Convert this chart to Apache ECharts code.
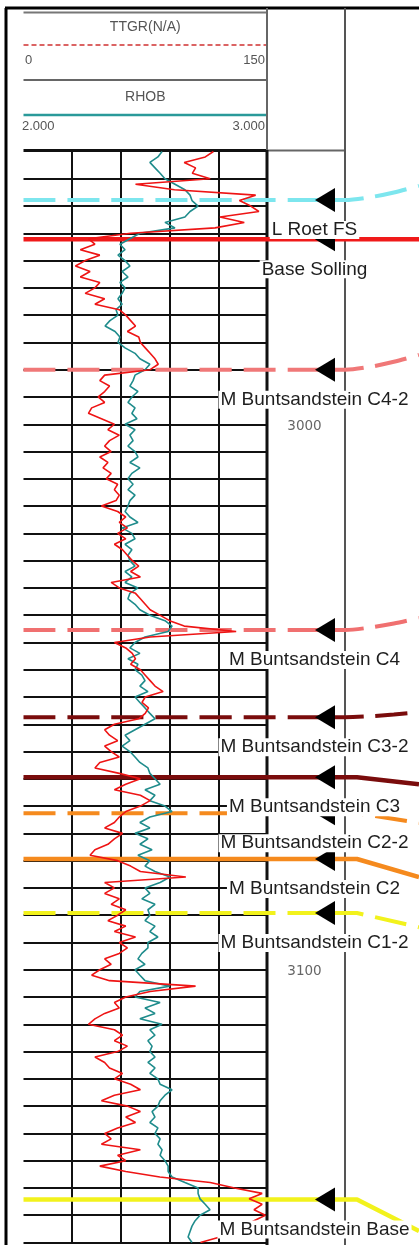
<!DOCTYPE html>
<html><head><meta charset="utf-8">
<script src="https://cdn.jsdelivr.net/npm/echarts@6/dist/echarts.min.js"></script>
<style>html,body{margin:0;padding:0;background:#fff;}#c{width:419px;height:1245px;}</style>
</head><body><div id="c"></div>
<script>
// ---------- DATA ----------
const depthStart = 2950;
const depthStep = 1;
// TTGR (API), one value per metre from 2950 to 3150
const gr = [
117,112,99,106,104,115,69,93,143,133,
140,145,121,136,118,66,40,44,35,47,
38,32,41,35,47,44,38,50,44,59,
63,66,69,64,71,72,75,78,81,83,
78,50,47,53,50,46,50,42,40,48,
56,52,59,53,50,54,47,52,49,54,
51,58,56,59,57,48,58,63,59,64,
58,63,56,61,64,67,71,66,72,54,
59,69,72,75,78,84,90,99,131,78,
56,63,67,69,66,72,75,78,81,86,
75,73,77,75,71,56,50,53,58,50,
54,59,47,44,59,72,63,56,72,78,
72,63,59,56,50,61,56,52,44,41,
58,66,72,100,50,56,50,59,54,63,
58,52,63,56,69,59,64,59,50,54,
47,42,53,106,78,63,56,59,50,44,
40,56,61,56,64,58,44,50,53,61,
56,66,72,56,48,64,72,63,69,58,
50,54,48,72,58,63,47,63,84,115,
130,147,139,147,142,149,142,136,142,121,
109
];
// RHOB (g/cc), one value per metre from 2950 to 3150
const rhob = [
2.569,2.552,2.519,2.540,2.561,2.581,2.622,2.663,2.684,2.692,
2.717,2.684,2.663,2.581,2.622,2.478,2.437,2.396,2.417,2.388,
2.417,2.437,2.405,2.429,2.396,2.417,2.405,2.388,2.405,2.380,
2.388,2.355,2.335,2.376,2.396,2.388,2.417,2.458,2.478,2.519,
2.499,2.458,2.450,2.437,2.470,2.445,2.429,2.458,2.445,2.466,
2.417,2.458,2.437,2.450,2.429,2.458,2.470,2.437,2.478,2.445,
2.429,2.450,2.429,2.458,2.437,2.429,2.417,2.437,2.470,2.405,
2.445,2.458,2.417,2.445,2.429,2.437,2.458,2.417,2.445,2.417,
2.470,2.437,2.429,2.458,2.478,2.519,2.581,2.610,2.594,2.499,
2.458,2.437,2.478,2.429,2.470,2.458,2.486,2.499,2.478,2.511,
2.458,2.478,2.499,2.519,2.540,2.499,2.458,2.417,2.437,2.405,
2.437,2.458,2.478,2.511,2.519,2.540,2.561,2.499,2.540,2.519,
2.581,2.610,2.519,2.478,2.519,2.458,2.511,2.478,2.528,2.470,
2.519,2.499,2.540,2.602,2.561,2.499,2.519,2.486,2.540,2.511,
2.519,2.499,2.540,2.519,2.552,2.511,2.511,2.486,2.470,2.499,
2.458,2.478,2.499,2.600,2.478,2.458,2.561,2.499,2.540,2.478,
2.569,2.519,2.540,2.511,2.528,2.519,2.540,2.511,2.540,2.519,
2.552,2.561,2.610,2.581,2.561,2.552,2.528,2.540,2.519,2.552,
2.540,2.561,2.552,2.569,2.561,2.581,2.594,2.594,2.610,2.663,
2.717,2.717,2.725,2.746,2.766,2.725,2.705,2.692,2.684,2.676,
2.692
];
// Formation tops
const topNames = ["L Roet FS","Base Solling","M Buntsandstein C4-2","M Buntsandstein C4","M Buntsandstein C3-2","M Buntsandstein C3","M Buntsandstein C2-2","M Buntsandstein C2","M Buntsandstein C1-2","M Buntsandstein Base"];
const topDepths = [2958.9, 2966.1, 2990.0, 3037.7, 3053.7, 3064.7, 3071.3, 3079.7, 3089.6, 3142.1];
const topRightDepths = [2956.3, 2966.1, 2987.3, 3035.5, 3052.8, 3066.0, 3073.1, 3083.0, 3092.2, 3147.9];
const topColors = ["#7de6ee","#f01a1a","#f07878","#f07070","#7a0c0c","#7a0c0c","#f58a1e","#f58a1e","#f2f21c","#f2f21c"];
const topDashed = [true,false,true,true,true,false,true,false,true,false];
const depthTickLabels = [3000, 3100];
const grRange = [0, 150];
const rhobRange = [2, 3];
const depthRange = [2950, 3150];

// ---------- LAYOUT ----------
const W = 419, H = 1245;
const TL = 23.5, TR = 267, DR = 345, TOP = 151.5, BOT = 1242.5;
const F = px => (px - TL) / (W - TL);
const depths = gr.map((_, i) => depthStart + i * depthStep);

const chart = echarts.init(document.getElementById('c'), null, {renderer: 'canvas'});

const markerSeries = topNames.map((name, i) => {
  const d = topDepths[i], rd = topRightDepths[i];
  let pts, smooth = false;
  if (rd < d) {
    pts = [[0, d], [F(DR), d]];
    [0.33, 0.66, 1].forEach(t => pts.push([F(DR + t * (W - DR)), d + (rd - d) * Math.pow(t, 1.5)]));
    smooth = 0.3;
  } else if (rd > d) {
    pts = [[0, d], [F(357), d], [1, rd]];
  } else {
    pts = [[0, d], [1, d]];
  }
  return {
    type: 'line', xAxisIndex: 2, yAxisIndex: 1, data: pts, smooth: smooth,
    symbol: 'none', z: 3, silent: true, animation: false,
    lineStyle: {color: topColors[i], width: topDashed[i] ? 4 : 4.5, type: topDashed[i] ? [32, 12] : 'solid', cap: 'butt', opacity: 1}
  };
});

const gl = (x1, y1, x2, y2, stroke, w, z, dash) => ({
  type: 'line', z: z, silent: true,
  shape: {x1, y1, x2, y2},
  style: {stroke, lineWidth: w, lineDash: dash || null}
});
const gt = (text, x, y, align, font, fill) => ({
  type: 'text', z: 6, silent: true,
  style: {text, x, y, align: align, verticalAlign: 'middle', textAlign: align, textVerticalAlign: 'middle', font, fill}
});
const hFont = '14px "Liberation Sans", Arial, sans-serif';
const nFont = '13px "Liberation Sans", Arial, sans-serif';

const option = {
  animation: false,
  backgroundColor: '#fff',
  grid: [
    {left: TL, top: TOP, width: TR - TL, height: BOT - TOP},
    {left: TL, top: TOP, width: W - TL, height: BOT - TOP}
  ],
  xAxis: [
    {gridIndex: 0, type: 'value', min: grRange[0], max: grRange[1], interval: 30, position: 'bottom',
     axisLine: {show: false}, axisTick: {show: false}, axisLabel: {show: false},
     splitLine: {show: true, showMinLine: false, showMaxLine: false, lineStyle: {color: '#111', width: 2}}},
    {gridIndex: 0, type: 'value', min: rhobRange[0], max: rhobRange[1], position: 'top', show: false},
    {gridIndex: 1, type: 'value', min: 0, max: 1, show: false}
  ],
  yAxis: [
    {gridIndex: 0, type: 'value', inverse: true, min: depthRange[0], max: depthRange[1], interval: 5,
     axisLine: {show: false}, axisTick: {show: false}, axisLabel: {show: false},
     splitLine: {show: true, showMinLine: false, lineStyle: {color: '#111', width: 2}}},
    {gridIndex: 1, type: 'value', inverse: true, min: depthRange[0], max: depthRange[1], show: false}
  ],
  series: [
    ...markerSeries,
    {type: 'line', name: 'RHOB', xAxisIndex: 1, yAxisIndex: 0, z: 4, symbol: 'none', silent: true,
     data: rhob.map((v, i) => [v, depths[i]]), lineStyle: {color: '#1f8c8c', width: 1.6}},
    {type: 'line', name: 'TTGR', xAxisIndex: 0, yAxisIndex: 0, z: 4, symbol: 'none', silent: true,
     data: gr.map((v, i) => [v, depths[i]]), lineStyle: {color: '#ee1414', width: 1.6}},
    {type: 'scatter', xAxisIndex: 2, yAxisIndex: 1, z: 5, silent: true,
     symbol: 'triangle', symbolSize: [24, 20], symbolRotate: 90, itemStyle: {color: '#000', opacity: 1},
     data: topDepths.map(d => [F(325), d])},
    {type: 'scatter', xAxisIndex: 2, yAxisIndex: 1, z: 5, silent: true, symbolSize: 0,
     itemStyle: {opacity: 1},
     data: depthTickLabels.map(d => [F(304.5), d]),
     label: {show: true, position: 'inside', offset: [0, 2], formatter: p => String(p.value[1]), opacity: 1,
             fontSize: 13.5, fontFamily: '"DejaVu Sans", sans-serif', color: '#666'}},
    {type: 'scatter', xAxisIndex: 2, yAxisIndex: 1, z: 10, silent: true, symbolSize: 0,
     itemStyle: {opacity: 1},
     data: topNames.map((n, i) => ({name: n, value: [F(314.5), topDepths[i]]})),
     label: {show: true, position: 'inside', offset: [0, 30], formatter: '{b}', opacity: 1,
             fontSize: 19, fontFamily: '"Liberation Sans", Arial, sans-serif', color: '#1e1e1e',
             backgroundColor: '#fff', padding: [0, 2], lineHeight: 18}}
  ],
  graphic: {elements: [
    gl(5, 8, W, 8, '#000', 3, 1),
    gl(6, 8, 6, H, '#000', 3, 1),
    gl(TL, 12.5, TR, 12.5, '#777', 2, 1),
    gl(TL, 45, TR, 45, '#d03030', 1.5, 1, [5, 3]),
    gl(TL, 80, TR, 80, '#666', 2, 1),
    gl(TL, 115, TR, 115, '#2a9a9a', 2.5, 1),
    gl(TL, 150.5, TR, 150.5, '#111', 3, 1),
    gl(TR, 150.5, DR, 150.5, '#666', 2, 1),
    gl(TR, 8, TR, 150, '#666', 2, 1),
    gl(TR, 150, TR, H, '#111', 3, 1),
    gl(DR, 8, DR, H, '#555', 2, 1),
    gt('TTGR(N/A)', (TL + TR) / 2, 27.5, 'center', hFont, '#555'),
    gt('0', 25, 60, 'left', nFont, '#555'),
    gt('150', 265, 60, 'right', nFont, '#555'),
    gt('RHOB', (TL + TR) / 2, 97.5, 'center', hFont, '#555'),
    gt('2.000', 22, 126, 'left', nFont, '#555'),
    gt('3.000', 265, 126, 'right', nFont, '#555')
  ]}
};
chart.setOption(option);
</script>
</body></html>
